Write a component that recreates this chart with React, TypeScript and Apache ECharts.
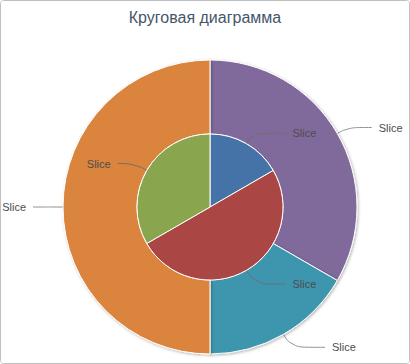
import React, { useEffect, useRef } from "react";
import * as echarts from "echarts";

const titleText = "Круговая диаграмма";
const outerNames = ["Slice", "Slice", "Slice"];
const outerValues = [2, 1, 3];
const outerColors = ["#80699B", "#3D96AE", "#DB843D"];
const innerNames = ["Slice", "Slice", "Slice"];
const innerValues = [1, 3, 2];
const innerColors = ["#4572A7", "#AA4643", "#89A54E"];

// connector lengths per slice (style only): [radial, horizontal]
const outerConnectors = [
  [12, 24],
  [15, 34],
  [10, 20],
];
const innerConnectors = [
  [12, 33],
  [16, 31],
  [14, 17],
];

export default function App() {
  const ref = useRef<HTMLDivElement>(null);
  useEffect(() => {
    if (!ref.current) return;
    const chart = echarts.init(ref.current, null, { renderer: "svg" });
    const font = "'Liberation Sans', Arial, sans-serif";
    const labelStyle = {
      show: true,
      color: "#4d4d4d",
      fontSize: 11,
      fontFamily: font,
      distanceToLabelLine: 7,
    };
    chart.setOption({
      animation: false,
      backgroundColor: "#ffffff",
      title: {
        text: titleText,
        left: "center",
        top: 4,
        textStyle: {
          color: "#46566a",
          fontSize: 16,
          fontWeight: "normal",
          fontFamily: font,
        },
      },
      series: [
        {
          type: "pie",
          center: [210, 207],
          radius: [73, 147],
          startAngle: 90,
          clockwise: true,
          avoidLabelOverlap: false,
          data: outerValues.map((v, i) => ({
            value: v,
            name: outerNames[i],
            itemStyle: { color: outerColors[i] },
            labelLine: {
              length: outerConnectors[i][0],
              length2: outerConnectors[i][1],
            },
          })),
          itemStyle: {
            borderColor: "#ffffff",
            borderWidth: 1,
            shadowBlur: 3,
            shadowColor: "rgba(0,0,0,0.3)",
            shadowOffsetX: 1,
            shadowOffsetY: 1,
          },
          label: labelStyle,
          labelLine: {
            show: true,
            smooth: 0.5,
            lineStyle: { color: "#909090", width: 1 },
          },
          emphasis: { disabled: true },
        },
        {
          type: "pie",
          center: [210, 207],
          radius: [0, 73],
          startAngle: 90,
          clockwise: true,
          avoidLabelOverlap: false,
          z: 5,
          data: innerValues.map((v, i) => ({
            value: v,
            name: innerNames[i],
            itemStyle: { color: innerColors[i] },
            labelLine: {
              length: innerConnectors[i][0],
              length2: innerConnectors[i][1],
            },
          })),
          itemStyle: {
            borderColor: "#ffffff",
            borderWidth: 1,
          },
          label: labelStyle,
          labelLine: {
            show: true,
            smooth: 0.5,
            lineStyle: { color: "#707070", width: 1 },
          },
          emphasis: { disabled: true },
        },
      ],
    });
    return () => chart.dispose();
  }, []);
  return (
    <div
      style={{
        position: "fixed",
        left: 0,
        top: 0,
        width: 410,
        height: 364,
        boxSizing: "border-box",
        border: "1px solid #c0c0c0",
        borderRadius: 4,
        overflow: "hidden",
        background: "#fff",
      }}
    >
      <div ref={ref} style={{ position: "absolute", left: -1, top: -1, width: 410, height: 364 }} />
    </div>
  );
}
